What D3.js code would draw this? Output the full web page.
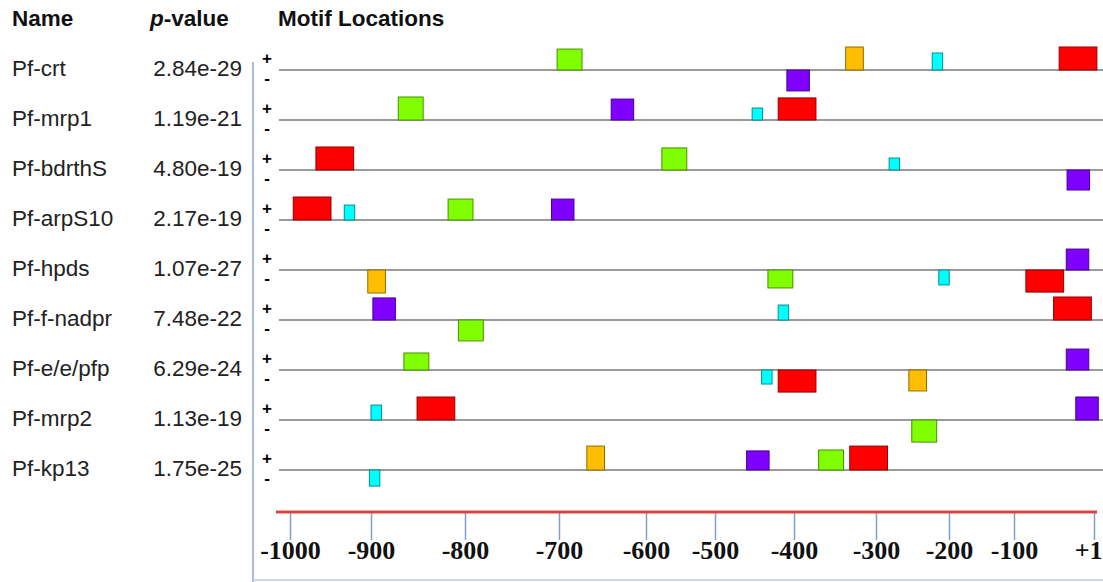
<!DOCTYPE html>
<html>
<head>
<meta charset="utf-8">
<script src="https://cdn.jsdelivr.net/npm/d3@7"></script>
<style>
  html, body { margin: 0; padding: 0; background: #fff; }
  svg { display: block; }
</style>
</head>
<body>
<div id="chart"></div>
<script>
// ---------------- DATA ----------------
const seqNames = ["Pf-crt", "Pf-mrp1", "Pf-bdrthS", "Pf-arpS10", "Pf-hpds",
                  "Pf-f-nadpr", "Pf-e/e/pfp", "Pf-mrp2", "Pf-kp13"];
const pValues  = ["2.84e-29", "1.19e-21", "4.80e-19", "2.17e-19", "1.07e-27",
                  "7.48e-22", "6.29e-24", "1.13e-19", "1.75e-25"];

// motifs and their lengths (bp)
const motifIds     = ["M1", "M2", "M3", "M4", "M5"];
const motifLengths = [47, 31, 28, 22, 13];

// axis tick labels (positions relative to TSS)
const tickValues = [-1000, -900, -800, -700, -600, -500, -400, -300, -200, -100, 1];
const tickLabels = ["-1000", "-900", "-800", "-700", "-600", "-500", "-400", "-300", "-200", "-100", "+1"];

// motif sites (parallel arrays)
const siteSeq    = [0,0,0,0,0, 1,1,1,1, 2,2,2,2, 3,3,3,3, 4,4,4,4,4, 5,5,5,5, 6,6,6,6,6, 7,7,7,7, 8,8,8,8,8];
const siteMotif  = ["M2","M4","M5","M1","M3",
                    "M2","M3","M5","M1",
                    "M1","M2","M5","M3",
                    "M1","M5","M2","M3",
                    "M4","M2","M5","M1","M3",
                    "M3","M5","M1","M2",
                    "M2","M3","M5","M1","M4",
                    "M5","M1","M3","M2",
                    "M4","M5","M3","M2","M1"];
const siteStart  = [-702,-337,-223,-43,-409,
                    -871,-640,-453,-420,
                    -968,-577,-282,-33,
                    -996,-933,-818,-708,
                    -904,-433,-214,-85,-34,
                    -898,-420,-50,-807,
                    -865,-34,-441,-420,-255,
                    -900,-851,-22,-251,
                    -668,-902,-460,-370,-332];
const siteStrand = ["+","+","+","+","-",
                    "+","+","+","+",
                    "+","+","+","-",
                    "+","+","+","+",
                    "-","-","-","-","+",
                    "+","+","+","-",
                    "+","+","-","-","-",
                    "+","+","+","-",
                    "+","-","+","+","+"];
const siteScore  = [9.1,10,7.4,10,9.1,
                    10,9.1,5.2,9.6,
                    10,9.6,5.2,8.7,
                    10,6.5,9.1,9.1,
                    10,7.8,6.5,9.6,9.1,
                    9.6,6.5,10,9.1,
                    7.4,9.1,6.1,9.6,9.1,
                    6.5,10,10,9.6,
                    10.4,7,8.3,8.7,10.4];

// ---------------- STYLE / LAYOUT ----------------
const W = 1103, H = 582;
const motifColor = {M1: "#ff0000", M2: "#7fff00", M3: "#7f00ff", M4: "#ffbf00", M5: "#00ffff"};
const tickPixels = [290, 371, 465, 559, 646, 715, 794, 876, 949, 1014, 1094];
const sansFont = "'Liberation Sans', Arial, Helvetica, sans-serif";
const serifFont = "'Liberation Serif', 'Times New Roman', Times, serif";

const svg = d3.select("#chart").append("svg")
  .attr("width", W).attr("height", H)
  .attr("font-family", sansFont);

const x = d3.scaleLinear().domain(tickValues).range(tickPixels);
const lenScale = d3.scaleLinear().domain([0, tickValues[tickValues.length-1] - tickValues[0]])
  .range([0, tickPixels[tickPixels.length-1] - tickPixels[0]]);
const y = d3.scalePoint().domain(seqNames).range([70, 470]);
const h = d3.scaleLinear().domain([0, 10]).range([0, 23]);

// headers
svg.append("text").attr("x", 12).attr("y", 26).attr("font-size", 22.5).attr("font-weight", "bold")
  .attr("fill", "#111").text("Name");
const pv = svg.append("text").attr("x", 150).attr("y", 26).attr("font-size", 22.5)
  .attr("font-weight", "bold").attr("fill", "#111");
pv.append("tspan").attr("font-style", "italic").text("p");
pv.append("tspan").text("-value");
svg.append("text").attr("x", 278).attr("y", 26).attr("font-size", 22.5).attr("font-weight", "bold")
  .attr("fill", "#111").text("Motif Locations");

// left blue line and bottom line
svg.append("line").attr("x1", 253).attr("x2", 253).attr("y1", 62).attr("y2", H)
  .attr("stroke", "#a3bcdc").attr("stroke-width", 2);
svg.append("line").attr("x1", 253).attr("x2", W).attr("y1", 580).attr("y2", 580)
  .attr("stroke", "#c8d7ea").attr("stroke-width", 2);

// rows
const rows = svg.append("g").selectAll("g").data(seqNames).join("g")
  .attr("transform", d => `translate(0,${y(d)})`);
rows.append("text").attr("x", 12).attr("y", 6).attr("font-size", 22.5).attr("fill", "#222")
  .text(d => d);
rows.append("text").attr("x", 242).attr("y", 6).attr("font-size", 22.5).attr("fill", "#222")
  .attr("text-anchor", "end").text((d, i) => pValues[i]);
rows.append("text").attr("x", 267).attr("y", -12).attr("font-size", 17).attr("font-weight", "bold")
  .attr("text-anchor", "middle").attr("dominant-baseline", "central").text("+");
rows.append("text").attr("x", 267).attr("y", 8).attr("font-size", 17).attr("font-weight", "bold")
  .attr("text-anchor", "middle").attr("dominant-baseline", "central").text("-");
rows.append("line").attr("x1", 279).attr("x2", W).attr("y1", 0).attr("y2", 0)
  .attr("stroke", "#9a9a9a").attr("stroke-width", 2);

// motif boxes
const sites = siteSeq.map((s, i) => ({
  seq: seqNames[s], motif: siteMotif[i], start: siteStart[i],
  strand: siteStrand[i], score: siteScore[i]
}));
svg.append("g").selectAll("rect").data(sites).join("rect")
  .attr("x", d => x(d.start))
  .attr("width", d => lenScale(motifLengths[motifIds.indexOf(d.motif)]))
  .attr("y", d => d.strand === "+" ? y(d.seq) - h(d.score) : y(d.seq))
  .attr("height", d => h(d.score))
  .attr("fill", d => motifColor[d.motif])
  .attr("stroke", d => d3.color(motifColor[d.motif]).darker(1.6))
  .attr("stroke-width", 1);

// axis
const axisY = 512;
const axis = svg.append("g").attr("transform", `translate(0,${axisY})`)
  .call(d3.axisBottom(x).tickValues(tickValues).tickSize(28)
        .tickFormat((d, i) => tickLabels[i]));
axis.attr("font-family", null).attr("font-size", null);
axis.select(".domain").remove();
axis.selectAll(".tick line").attr("stroke", "#7f9fcf").attr("stroke-width", 1.5);
axis.selectAll(".tick text").attr("y", 47).attr("dy", 0)
  .style("font-family", serifFont).style("font-size", "26px").style("font-weight", "bold")
  .attr("fill", "#111")
  .attr("text-anchor", d => d === 1 ? "end" : "middle")
  .attr("x", d => d === 1 ? W - 1 - x(1) : 0);
svg.append("line").attr("x1", 276).attr("x2", x(1) + 3).attr("y1", axisY).attr("y2", axisY)
  .attr("stroke", "#d64541").attr("stroke-width", 3);
</script>
</body>
</html>
